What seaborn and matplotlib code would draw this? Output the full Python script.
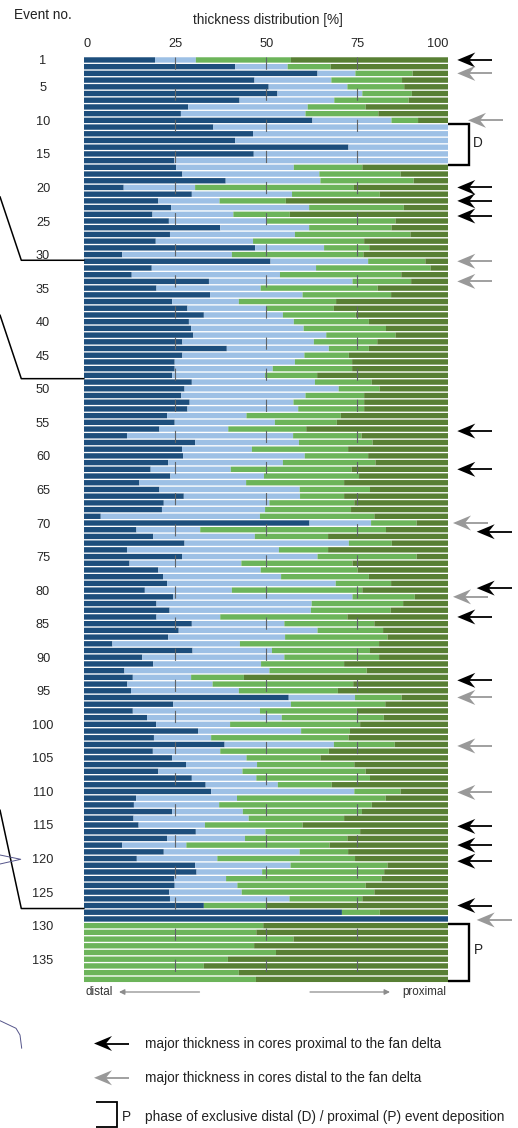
import matplotlib
matplotlib.use('Agg')
import numpy as np
import pandas as pd
import seaborn as sns
from matplotlib import pyplot as plt
from matplotlib.patches import Polygon

# upper edge of each class in the stacked bar, event 1 to 138 (rest up to 100 is the proximal class)
distal = [
    19.5, 41.5, 64.1, 46.8, 50.7, 53.1, 42.7, 28.6, 26.6, 62.7,
    35.5, 46.4, 41.5, 72.6, 46.6, 24.8, 25.3, 27.0, 38.9, 10.9,
    29.6, 20.4, 23.9, 18.8, 23.3, 37.4, 23.6, 19.7, 47.0, 10.5,
    51.2, 18.6, 13.1, 34.3, 19.9, 34.6, 24.2, 28.4, 32.9, 28.8,
    29.4, 30.0, 27.0, 39.2, 27.0, 24.9, 24.9, 24.2, 29.6, 27.6,
    26.7, 29.0, 28.4, 22.8, 24.9, 20.7, 11.8, 30.5, 26.9, 27.2,
    23.1, 18.3, 23.7, 15.2, 20.7, 27.4, 21.9, 21.4, 4.6, 61.9,
    14.4, 19.0, 27.6, 11.8, 26.9, 12.5, 20.4, 21.7, 22.8, 16.7,
    24.5, 19.9, 23.5, 19.9, 29.6, 26.0, 23.1, 7.8, 29.8, 16.0,
    19.0, 11.1, 13.4, 11.9, 12.9, 56.2, 24.5, 13.4, 17.3, 19.8,
    31.3, 19.2, 38.6, 18.9, 24.2, 28.0, 20.4, 29.6, 33.4, 34.9,
    14.3, 13.7, 24.2, 13.6, 15.0, 30.7, 22.8, 10.5, 21.9, 14.5,
    30.5, 30.9, 24.8, 24.9, 23.4, 23.6, 32.9, 70.8, 100,
    0, 0, 0, 0, 0, 0, 0, 0, 0,
]
mid_distal = [
    30.7, 55.9, 74.5, 67.9, 72.3, 76.4, 68.7, 61.4, 60.8, 84.4,
    100, 100, 100, 100, 100, 100, 57.6, 64.6, 64.9, 30.5,
    57.1, 37.2, 61.8, 41.0, 50.1, 61.8, 57.9, 46.4, 65.9, 40.6,
    78.0, 63.7, 53.8, 73.7, 48.5, 60.0, 42.5, 50.0, 54.6, 57.6,
    60.3, 66.5, 63.1, 67.2, 60.5, 57.9, 51.8, 49.7, 63.4, 69.9,
    60.8, 57.5, 58.8, 44.6, 52.4, 39.6, 57.4, 59.0, 46.1, 60.6,
    54.6, 40.3, 49.4, 44.5, 59.2, 59.3, 50.9, 49.7, 48.3, 78.8,
    31.9, 46.9, 72.7, 53.5, 64.1, 43.2, 48.5, 54.1, 69.1, 40.6,
    73.7, 62.5, 62.3, 37.4, 55.0, 64.1, 55.2, 42.8, 51.6, 55.0,
    48.6, 50.9, 29.4, 35.3, 42.5, 74.4, 56.8, 48.3, 54.3, 40.1,
    59.6, 34.9, 68.6, 37.4, 44.6, 47.5, 43.5, 47.3, 53.2, 74.2,
    42.0, 37.1, 43.6, 45.2, 33.2, 49.8, 44.2, 28.1, 59.2, 36.6,
    56.7, 48.9, 39.0, 42.1, 43.3, 56.4, 32.9, 70.8, 100,
    0, 0, 0, 0, 0, 0, 0, 0, 0,
]
mid_proximal = [
    56.8, 67.7, 90.2, 87.3, 87.9, 90.0, 89.1, 77.3, 80.8, 91.7,
    100, 100, 100, 100, 100, 100, 76.4, 86.9, 90.5, 74.1,
    81.2, 55.4, 87.8, 56.5, 85.5, 84.4, 89.6, 76.9, 78.3, 76.7,
    93.7, 95.1, 87.1, 89.8, 80.6, 84.3, 69.2, 68.6, 74.6, 78.2,
    82.9, 85.5, 80.5, 78.2, 72.7, 73.6, 73.6, 64.0, 79.0, 81.1,
    76.9, 76.9, 76.9, 70.5, 69.4, 61.0, 76.2, 79.2, 72.5, 78.0,
    80.0, 73.5, 75.5, 71.4, 78.5, 71.4, 74.2, 73.3, 79.7, 91.3,
    82.9, 67.0, 84.5, 67.0, 91.3, 73.7, 75.1, 78.2, 84.3, 76.4,
    90.8, 87.6, 84.2, 72.3, 79.7, 82.1, 83.3, 81.0, 78.5, 81.0,
    71.4, 77.6, 43.9, 73.9, 69.7, 87.2, 82.7, 74.9, 82.3, 75.8,
    73.0, 72.6, 85.3, 67.2, 64.9, 74.2, 77.3, 78.5, 68.0, 86.9,
    82.8, 79.0, 76.3, 71.4, 60.0, 75.8, 72.3, 67.4, 72.5, 74.4,
    83.3, 82.4, 81.7, 77.3, 79.7, 76.4, 50.0, 81.2, 100,
    49.2, 47.3, 57.5, 46.7, 52.7, 39.5, 32.9, 42.5, 47.2,
]
events = list(range(1, 139))
event_ticks = [1] + list(range(5, 136, 5))
pct_ticks = [0, 25, 50, 75, 100]

# arrows: events marked in the figure
black_arrows = [1, 20, 22, 24, 56, 62, 71, 80, 84, 93, 115, 118, 120, 127]
grey_arrows = [3, 10, 31, 34, 70, 81, 96, 103, 110, 129]
phase_d = (11, 16)
phase_p = (130, 138)

palette = {'distal': '#1d4e7c', 'mid_distal': '#9dc0e5',
           'mid_proximal': '#6cb45a', 'proximal': '#587f34'}

sns.set_style('white')
plt.rcParams['font.family'] = ['Liberation Sans', 'DejaVu Sans']
plt.rcParams['text.color'] = '#222222'

W, H = 518, 1128
fig = plt.figure(figsize=(W / 100, H / 100), dpi=100)
ax = fig.add_axes([84 / W, 1 - 982.7 / H, 364.3 / W, 926.1 / H])

# thickness share of each class from the edges
edges = np.array([distal, mid_distal, mid_proximal, [100] * len(events)], dtype=float)
shares = np.diff(edges, axis=0, prepend=0)
df = pd.DataFrame(shares.T, columns=list(palette))
df['event'] = events
df = df.melt(id_vars='event', var_name='cls', value_name='share')

# histplot stacks the last hue level first
sns.histplot(data=df, y='event', weights='share', hue='cls', hue_order=list(palette)[::-1],
             multiple='stack', discrete=True, shrink=0.8, palette=palette, alpha=1,
             linewidth=0, legend=False, ax=ax)
# no pixel snapping, keeps the gaps between the rows even
for p in ax.patches:
    p.set_snap(False)

ax.set_xlim(0, 100)
ax.set_ylim(138.5, 0.5)
sns.despine(ax=ax, left=True, bottom=True)

# dashed guides at 25/50/75
ax.vlines(pct_ticks[1:-1], 0.5, 138.5, colors='#5f6468', linewidth=0.8,
          linestyles=(0, (11, 17)), zorder=5)

ax.set_yticks(event_ticks)
ax.set_yticklabels(event_ticks, ha='center', fontsize=9.2)
ax.tick_params(axis='y', length=0, pad=29.5)
ax.xaxis.tick_top()
ax.set_xticks(pct_ticks)
ax.set_xticklabels(pct_ticks, fontsize=9.2)
ax.tick_params(axis='x', length=0, pad=4.5)
ax.get_xticklabels()[0].set_ha('left')
ax.get_xticklabels()[-1].set_ha('right')
ax.xaxis.set_label_position('top')
ax.set_xlabel('thickness distribution [%]', fontsize=9.8, labelpad=10.5, x=0.505)
ax.set_ylabel('')

# overlay in image pixels for the annotations around the plot
ov = fig.add_axes([0, 0, 1, 1], zorder=10)
ov.set_xlim(0, W)
ov.set_ylim(H, 0)
ov.axis('off')
ov.patch.set_alpha(0)


def row_y(event):
    return H - ax.transData.transform((0, event))[1]


def big_arrow(tip, y, color, length=35):
    ov.plot([tip + 10, tip + length], [y, y], color=color, lw=1.3, solid_capstyle='butt')
    ov.add_patch(Polygon([(tip, y), (tip + 18, y - 7.5), (tip + 12, y), (tip + 18, y + 7.5)],
                         closed=True, fc=color, ec='none'))


# small shifts where the arrow in the figure does not sit exactly on its row
nudge = {24: 1.7, 56: 2, 71: 2, 80: -2, 93: 3, 103: 1.5, 110: 1, 115: 1.4, 120: 2.7, 129: 1}
far_right = {71, 80, 129}
far_left = {70, 81}
for e in black_arrows:
    tip = 476.7 if e in far_right else 457.3
    big_arrow(tip, row_y(e) + nudge.get(e, 0), 'black')
for e in grey_arrows:
    tip = 457.3
    if e in far_right:
        tip = 476.7
    elif e in far_left:
        tip = 453
    elif e == 10:
        tip = 468
    big_arrow(tip, row_y(e) + nudge.get(e, 0), '#999999')


def bracket(y0, y1, x0=448.3, x1=469, lw=1.7):
    ov.plot([x0, x1, x1, x0], [y0, y0, y1, y1], color='black', lw=lw,
            solid_joinstyle='miter', solid_capstyle='butt')


bracket(row_y(phase_d[0]) - 3, row_y(phase_d[1]) + 4.3)
bracket(row_y(phase_p[0]) - 1.3, row_y(phase_p[1]) + 1.4)
ov.text(473, 143, 'D', fontsize=9.8, va='center')
ov.text(474, 950.5, 'P', fontsize=9.8, va='center')

# leader lines to the left of the plot
for event, shift, top in [(30, 5.7, 196.7), (48, 3.3, 315), (127, 3, 810)]:
    y = row_y(event) + shift
    ov.plot([84, 21.3, 0], [y, y, top], color='black', lw=1.1)

# leftovers of the neighbouring map
ov.plot([0, 20.7, 0], [855, 859.3, 864], color='#55558a', lw=0.7)
ov.plot([0, 16, 20, 21.7], [1020.7, 1028.3, 1035, 1048.3], color='#55558a', lw=0.7)

ov.text(14, 15, 'Event no.', fontsize=9.8, va='center')

# distal / proximal direction
ov.text(85.5, 992, 'distal', fontsize=8.4, va='center', color='#333333')
ov.text(446, 992, 'proximal', fontsize=8.4, va='center', ha='right', color='#333333')
ov.annotate('', xy=(119, 992), xytext=(199.5, 992),
            arrowprops=dict(arrowstyle='-|>', color='#8c8c8c', lw=0.9, mutation_scale=8,
                            shrinkA=0, shrinkB=0))
ov.annotate('', xy=(390, 992), xytext=(310, 992),
            arrowprops=dict(arrowstyle='-|>', color='#8c8c8c', lw=0.9, mutation_scale=8,
                            shrinkA=0, shrinkB=0))

# legend
big_arrow(94, 1043.5, 'black')
big_arrow(94, 1077.8, '#999999')
bracket(1102.3, 1126.7, x0=95.7, x1=116.7, lw=1.3)
ov.text(122, 1117, 'P', fontsize=9.8, va='center')
ov.text(145, 1043.7, 'major thickness in cores proximal to the fan delta', fontsize=9.8, va='center')
ov.text(145, 1078, 'major thickness in cores distal to the fan delta', fontsize=9.8, va='center')
ov.text(145, 1117.5, 'phase of exclusive distal (D) / proximal (P) event deposition', fontsize=9.8, va='center')

plt.savefig('out.png', dpi=100)
